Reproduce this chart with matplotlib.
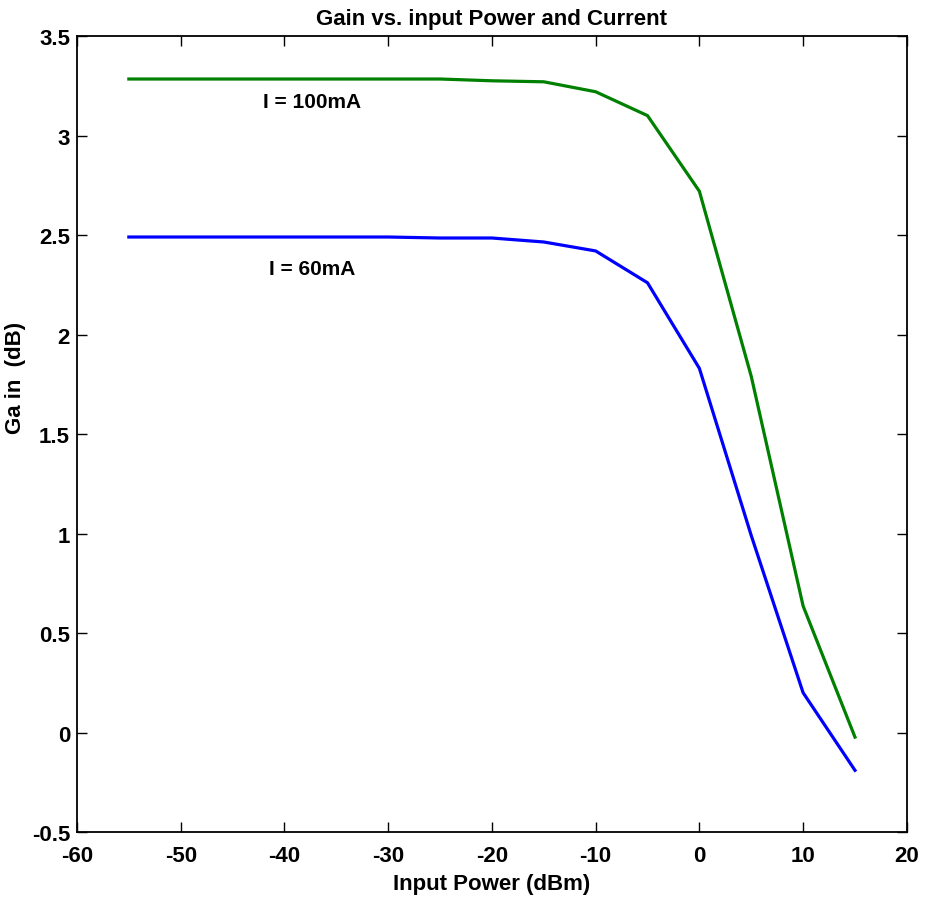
import matplotlib
matplotlib.use('Agg')
import matplotlib.pyplot as plt

plt.rcParams['font.family'] = ['Liberation Sans', 'DejaVu Sans']
plt.rcParams['font.weight'] = 'bold'
plt.rcParams['axes.unicode_minus'] = False

pin = [-55, -50, -45, -40, -35, -30, -25, -20, -15, -10, -5, 0, 5, 10, 15]
gain_100 = [3.284, 3.284, 3.284, 3.284, 3.284, 3.284, 3.284, 3.275, 3.27, 3.22, 3.10, 2.72, 1.79, 0.636, -0.023]
gain_60 = [2.49, 2.49, 2.49, 2.49, 2.49, 2.49, 2.485, 2.485, 2.465, 2.42, 2.26, 1.83, 0.99, 0.20, -0.19]
yticks = [-0.5, 0, 0.5, 1, 1.5, 2, 2.5, 3, 3.5]
ylabels = ['-0.5', '0', '0.5', '1', '1.5', '2', '2.5', '3', '3.5']

fig = plt.figure(figsize=(9.32, 9.03), dpi=100)
ax = fig.add_axes([0.0826, 0.0775, 0.8904, 0.8815])

ax.plot(pin, gain_100, color='#008000', lw=2.3)
ax.plot(pin, gain_60, color='#0000ff', lw=2.3)

ax.text(-37.3, 3.17, 'I = 100mA', ha='center', va='center', fontsize=15, fontweight='bold')
ax.text(-37.3, 2.33, 'I = 60mA', ha='center', va='center', fontsize=15, fontweight='bold')

ax.set_xlim(-60, 20)
ax.set_ylim(-0.5, 3.5)
ax.set_xticks(range(-60, 21, 10))
ax.set_yticks(yticks)
ax.set_yticklabels(ylabels)
ax.tick_params(direction='in', top=True, right=True, labelsize=16, length=7, width=1)
ax.tick_params(axis='x', pad=9)
ax.tick_params(axis='y', pad=5)
for lab in ax.get_xticklabels() + ax.get_yticklabels():
    lab.set_fontweight('bold')
for sp in ax.spines.values():
    sp.set_linewidth(1.3)

ax.set_xlabel('Input Power (dBm)', fontsize=16, fontweight='bold')
ax.xaxis.set_label_coords(0.5, -0.052)
ax.set_ylabel('Ga in  (dB)', fontsize=16, fontweight='bold')
ax.yaxis.set_label_coords(-0.062, 0.572)
ax.set_title('Gain vs. input Power and Current', fontsize=16, fontweight='bold', pad=9)

fig.savefig('out.png', dpi=100)
